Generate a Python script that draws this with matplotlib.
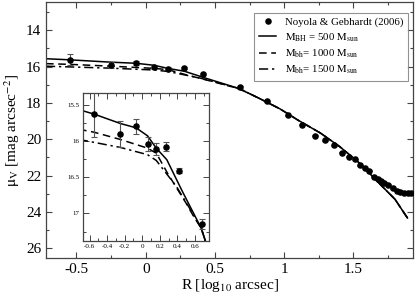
"""Surface brightness profile with BH models and zoomed inset."""

import matplotlib
matplotlib.use('Agg')
import matplotlib.pyplot as plt
from matplotlib.lines import Line2D
from matplotlib.ticker import MultipleLocator, FuncFormatter

plt.rcParams['font.family'] = ['Liberation Serif', 'DejaVu Serif']
plt.rcParams['mathtext.fontset'] = 'stix'
plt.rcParams['axes.unicode_minus'] = False

# Noyola & Gebhardt (2006) data
obs_r = [-0.545, -0.25, -0.068, 0.06, 0.16, 0.276, 0.415, 0.68, 0.876, 1.024,
         1.132, 1.224, 1.298, 1.356, 1.417, 1.467, 1.51, 1.549, 1.58, 1.614,
         1.65, 1.674, 1.698, 1.722, 1.753, 1.785, 1.814, 1.838, 1.866, 1.897, 1.915]
obs_mu = [15.63, 15.91, 15.80, 16.04, 16.11, 16.08, 16.41, 17.14, 17.9, 18.67,
          19.19, 19.81, 20.05, 20.34, 20.74, 20.96, 21.09, 21.42, 21.6, 21.73,
          22.05, 22.18, 22.29, 22.38, 22.51, 22.69, 22.82, 22.91, 22.93, 22.93, 22.93]
obs_err = [0.31, 0.18, 0.10, 0.10, 0.08, 0.06, 0.03, 0.07, 0.03, 0.03,
           0.03, 0.03, 0.03, 0.03, 0.03, 0.03, 0.03, 0.03, 0.03, 0.03,
           0.03, 0.03, 0.03, 0.03, 0.03, 0.03, 0.03, 0.03, 0.03, 0.03, 0.03]

# model profiles
r_500 = [-0.72, -0.55, -0.25, -0.07, 0.06, 0.16, 0.28, 0.45, 0.67, 0.82,
         0.97, 1.10, 1.26, 1.40, 1.55, 1.67, 1.80, 1.89]
mu_500 = [15.57, 15.63, 15.76, 15.82, 15.93, 16.10, 16.26, 16.68, 17.20, 17.75,
          18.33, 18.95, 19.65, 20.40, 21.35, 22.30, 23.30, 24.33]

r_1000 = [-0.72, -0.55, -0.25, 0.06, 0.16, 0.29, 0.50, 0.58, 0.67, 0.82,
          0.97, 1.10, 1.26, 1.40, 1.55, 1.67, 1.80, 1.89]
mu_1000 = [15.84, 15.88, 15.98, 16.10, 16.17, 16.45, 16.86, 17.03, 17.20, 17.75,
           18.33, 18.95, 19.65, 20.40, 21.35, 22.30, 23.30, 24.33]

r_1500 = [-0.72, -0.55, -0.25, 0.06, 0.16, 0.39, 0.54, 0.60, 0.67, 0.82,
          0.97, 1.10, 1.26, 1.40, 1.55, 1.67, 1.80, 1.89]
mu_1500 = [15.98, 16.02, 16.09, 16.19, 16.27, 16.63, 16.93, 17.06, 17.20, 17.75,
           18.33, 18.95, 19.65, 20.40, 21.35, 22.30, 23.30, 24.33]

W, H = 415, 295
fig = plt.figure(figsize=(W / 100, H / 100), dpi=100)
ax = fig.add_axes([46 / W, 1 - 258 / H, (413 - 46) / W, (258 - 2) / H])
axin = fig.add_axes([82.5 / W, 1 - 241 / H, 126.5 / W, 148 / H])

spine_col = '#444444'
dash = (0, (5, 3))
dashdot = (0, (6, 2.5, 1.5, 2.5))


def draw(a, ms, lw, capsize):
    a.plot(r_500, mu_500, color='black', lw=lw, ls='-')
    a.plot(r_1000, mu_1000, color='black', lw=lw, ls=dash)
    a.plot(r_1500, mu_1500, color='black', lw=lw, ls=dashdot)
    a.errorbar(obs_r, obs_mu, yerr=obs_err, fmt='o', color='black', ms=ms,
               ecolor='#555555', elinewidth=0.8, capsize=capsize, capthick=0.8,
               zorder=5)


draw(ax, 3.7, 1.1, 2.5)
draw(axin, 3.7, 1.1, 2.5)

# main axes
ax.set_xlim(-0.72, 1.93)
ax.set_ylim(26.53, 12.45)
ax.xaxis.set_major_locator(MultipleLocator(0.5))
ax.xaxis.set_minor_locator(MultipleLocator(0.25))
ax.yaxis.set_major_locator(MultipleLocator(2))
ax.yaxis.set_minor_locator(MultipleLocator(1))
ax.xaxis.set_major_formatter(FuncFormatter(lambda v, p: f'{v:g}'))
ax.tick_params(which='both', direction='in', top=True, right=True,
               labelsize=11, color=spine_col)
ax.tick_params(which='major', length=4.5, width=0.8)
ax.tick_params(which='minor', length=2.5, width=0.8)
ax.set_xlabel(r'R [log$_{10}$ arcsec]', fontsize=11, labelpad=1)
ax.set_ylabel(r'$\mathrm{\mu_V}$ [mag arcsec$^{-2}$]', fontsize=11, labelpad=3)
for s in ax.spines.values():
    s.set_color(spine_col)
    s.set_linewidth(0.9)

handles = [
    Line2D([], [], marker='o', ls='none', color='black', ms=3.7),
    Line2D([], [], color='black', lw=1.1, ls='-'),
    Line2D([], [], color='black', lw=1.1, ls=dash),
    Line2D([], [], color='black', lw=1.1, ls=dashdot),
]
labels = [
    'Noyola & Gebhardt (2006)',
    r'$\mathrm{M_{BH}}$ = 500 $\mathrm{M_{sun}}$',
    r'$\mathrm{M_{bh}}$= 1000 $\mathrm{M_{sun}}$',
    r'$\mathrm{M_{bh}}$= 1500 $\mathrm{M_{sun}}$',
]
leg = ax.legend(handles, labels,
                loc='upper right', bbox_to_anchor=(0.987, 0.958), fontsize=7.8,
                frameon=True, fancybox=False, edgecolor='#777777',
                handlelength=1.6, handletextpad=0.8, borderpad=0.45,
                labelspacing=0.35, borderaxespad=0)
leg.get_frame().set_linewidth(0.8)

# inset
axin.set_xlim(-0.68, 0.76)
axin.set_ylim(17.38, 15.34)
axin.xaxis.set_major_locator(MultipleLocator(0.2))
axin.xaxis.set_minor_locator(MultipleLocator(0.1))
axin.yaxis.set_major_locator(MultipleLocator(0.5))
axin.yaxis.set_minor_locator(MultipleLocator(0.25))
fmt = FuncFormatter(lambda v, p: f'{v:g}' if abs(v) > 1e-9 else '0')
axin.xaxis.set_major_formatter(fmt)
axin.yaxis.set_major_formatter(fmt)
axin.tick_params(which='both', direction='in', top=True, right=True,
                 labelsize=5, color=spine_col, pad=2)
axin.tick_params(which='major', length=4, width=0.7)
axin.tick_params(which='minor', length=2.5, width=0.7)
for s in axin.spines.values():
    s.set_color(spine_col)
    s.set_linewidth(0.9)

fig.savefig('out.png', dpi=100)
